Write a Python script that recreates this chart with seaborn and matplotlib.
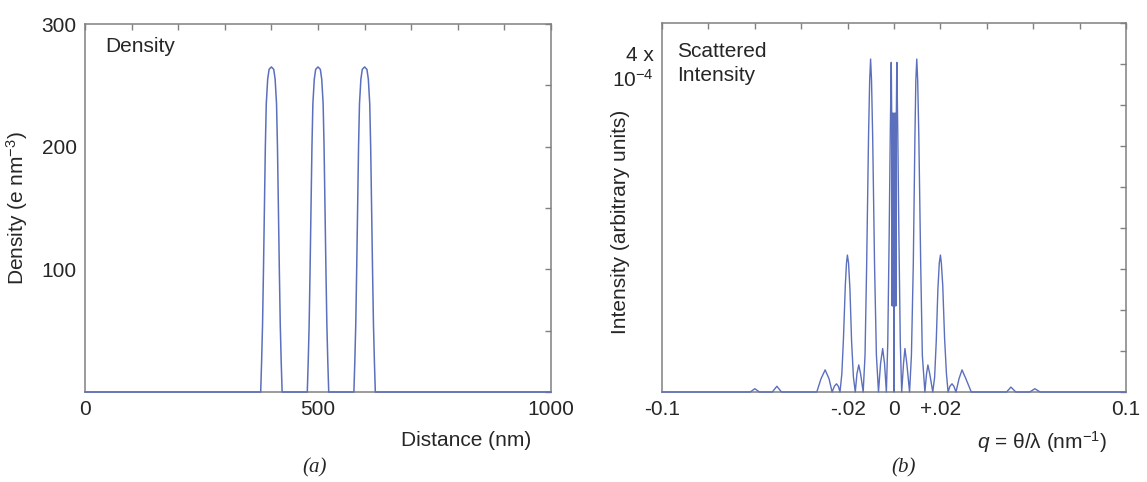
import matplotlib
matplotlib.use("Agg")
from matplotlib import pyplot as plt
from matplotlib.ticker import MultipleLocator
import seaborn as sns

# (a) electron density of three layers
distance_nm = [0,
               377, 379, 381, 383, 385, 387, 389, 392, 395, 400,
               405, 408, 411, 413, 415, 417, 419, 421, 423,
               477, 479, 481, 483, 485, 487, 489, 492, 495, 500,
               505, 508, 511, 513, 515, 517, 519, 521, 523,
               577, 579, 581, 583, 585, 587, 589, 592, 595, 600,
               605, 608, 611, 613, 615, 617, 619, 621, 623,
               1000]
density = [0,
           0, 25, 55, 100, 150, 200, 235, 255, 263, 265,
           263, 255, 235, 200, 150, 100, 55, 25, 0,
           0, 25, 55, 100, 150, 200, 235, 255, 263, 265,
           263, 255, 235, 200, 150, 100, 55, 25, 0,
           0, 25, 55, 100, 150, 200, 235, 255, 263, 265,
           263, 255, 235, 200, 150, 100, 55, 25, 0,
           0]

# (b) scattered intensity (units of 1e-4), q < 0 then q > 0
q_left = [-0.100, -0.062, -0.060, -0.058, -0.0525, -0.0505, -0.0485, -0.0333,
          -0.0315, -0.0297, -0.0280, -0.0267, -0.0257, -0.0248, -0.0240, -0.0233,
          -0.0225, -0.0218, -0.0210, -0.0205, -0.0201, -0.0196, -0.0190, -0.0183,
          -0.0175, -0.0167, -0.0160, -0.0152, -0.0144, -0.0133, -0.0125, -0.0118,
          -0.0110, -0.0105, -0.0101, -0.0097, -0.0092, -0.0084, -0.0076, -0.0067,
          -0.0058, -0.0049, -0.0041, -0.0033, -0.0027, -0.0021, -0.0016, -0.0012,
          -0.0010, -0.0008, -0.0006, -0.0004, -0.0002, 0.0]
intensity_left = [0, 0, 0.04, 0, 0, 0.07, 0, 0,
                  0.16, 0.27, 0.16, 0, 0.07, 0.10, 0.07, 0,
                  0.22, 0.65, 1.30, 1.57, 1.67, 1.57, 1.25, 0.62,
                  0.18, 0, 0.22, 0.33, 0.22, 0, 0.45, 1.55,
                  3.10, 3.80, 4.06, 3.80, 3.10, 1.55, 0.45, 0,
                  0.35, 0.53, 0.35, 0, 0.6, 1.9, 3.2, 4.02,
                  3.40, 1.05, 3.40, 1.05, 3.40, 0]
q_right = [0.0002, 0.0004, 0.0006, 0.0008, 0.0010, 0.0012, 0.0016, 0.0021,
           0.0027, 0.0033, 0.0041, 0.0047, 0.0055, 0.0067, 0.0075, 0.0083,
           0.0090, 0.0094, 0.0098, 0.0102, 0.0107, 0.0115, 0.0122, 0.0133,
           0.0140, 0.0146, 0.0154, 0.0167, 0.0175, 0.0182, 0.0189, 0.0195,
           0.0200, 0.0204, 0.0210, 0.0218, 0.0226, 0.0233, 0.0241, 0.0250,
           0.0258, 0.0267, 0.0280, 0.0293, 0.0310, 0.0333, 0.0485, 0.0504,
           0.0525, 0.0585, 0.0607, 0.0630, 0.100]
intensity_right = [3.40, 1.05, 3.40, 1.05, 3.40, 4.02, 3.2, 1.9,
                   0.6, 0, 0.35, 0.53, 0.35, 0, 0.45, 1.55,
                   3.10, 3.80, 4.06, 3.80, 3.10, 1.55, 0.45, 0,
                   0.22, 0.33, 0.22, 0, 0.18, 0.62, 1.25, 1.57,
                   1.67, 1.57, 1.30, 0.65, 0.22, 0, 0.07, 0.10,
                   0.07, 0, 0.16, 0.27, 0.16, 0, 0, 0.06,
                   0, 0, 0.04, 0, 0]

LINE = "#5b6fbd"
SPINE = "#808080"


def style_axes(ax):
    for sp in ax.spines.values():
        sp.set_visible(True)
        sp.set_color(SPINE)
        sp.set_linewidth(1.1)
    ax.tick_params(which="both", direction="in", top=True, right=True,
                   length=4, width=1, color=SPINE, labelsize=15, pad=6)


def density_panel(ax):
    sns.lineplot(x=distance_nm, y=density, ax=ax, color=LINE, linewidth=1.1,
                 sort=False, estimator=None, clip_on=False, zorder=5)
    ax.set_xlim(0, 1000)
    ax.set_ylim(0, 300)
    style_axes(ax)
    ax.xaxis.set_major_locator(MultipleLocator(100))
    ax.yaxis.set_major_locator(MultipleLocator(50))
    ax.set_xticklabels(["0" if t == 0 else "500" if t == 500 else "1000" if t == 1000 else ""
                        for t in ax.get_xticks()])
    ax.set_yticklabels([str(int(t)) if t in (100, 200, 300) else "" for t in ax.get_yticks()])
    ax.set_xlabel("Distance (nm)", fontsize=15, ha="right")
    ax.xaxis.set_label_coords(0.957, -0.105)
    ax.set_ylabel("Density (e nm$^{-3}$)", fontsize=15)
    ax.yaxis.set_label_coords(-0.118, 0.5)
    ax.text(0.043, 0.94, "Density", transform=ax.transAxes, fontsize=15, va="center")


def intensity_panel(ax):
    sns.lineplot(x=q_left + q_right, y=intensity_left + intensity_right, ax=ax,
                 color=LINE, linewidth=1.0, sort=False, estimator=None,
                 clip_on=False, zorder=5)
    ax.set_xlim(-0.1, 0.1)
    ax.set_ylim(0, 4.5)
    style_axes(ax)
    ax.xaxis.set_major_locator(MultipleLocator(0.02))
    ax.yaxis.set_major_locator(MultipleLocator(0.5))
    xlab = {-0.1: "-0.1", -0.02: "-.02", 0.0: "0", 0.02: "+.02", 0.1: "0.1"}
    ax.set_xticklabels([xlab.get(round(t, 2), "") for t in ax.get_xticks()])
    ax.set_yticklabels(["4 x\n10$^{-4}$" if abs(t - 4) < 1e-9 else "" for t in ax.get_yticks()],
                       ha="right", linespacing=1.25)
    ax.set_xlabel(r"$q$ = θ/λ (nm$^{-1}$)", fontsize=15, ha="right")
    ax.xaxis.set_label_coords(0.959, -0.1)
    ax.set_ylabel("Intensity (arbitrary units)", fontsize=15)
    ax.yaxis.set_label_coords(-0.069, 0.46)
    ax.text(0.033, 0.891, "Scattered\nIntensity", transform=ax.transAxes, fontsize=15,
            va="center", linespacing=1.35)


def main():
    sns.set_style("white")
    plt.rcParams["font.family"] = ["Liberation Sans", "DejaVu Sans"]
    plt.rcParams["mathtext.fontset"] = "custom"
    plt.rcParams["mathtext.rm"] = "Liberation Sans"
    plt.rcParams["mathtext.it"] = "Liberation Sans:italic"

    fig = plt.figure(figsize=(11.47, 4.82), dpi=100)
    ax_a = fig.add_axes([0.0741, 0.1867, 0.4063, 0.7635])
    ax_b = fig.add_axes([0.5772, 0.1867, 0.4045, 0.7656])

    density_panel(ax_a)
    intensity_panel(ax_b)

    fig.text(0.2746, 0.029, "(a)", family="Liberation Serif", style="italic",
             fontsize=15, ha="center", va="center")
    fig.text(0.788, 0.029, "(b)", family="Liberation Serif", style="italic",
             fontsize=15, ha="center", va="center")

    fig.savefig("out.png", dpi=100)


if __name__ == "__main__":
    main()
